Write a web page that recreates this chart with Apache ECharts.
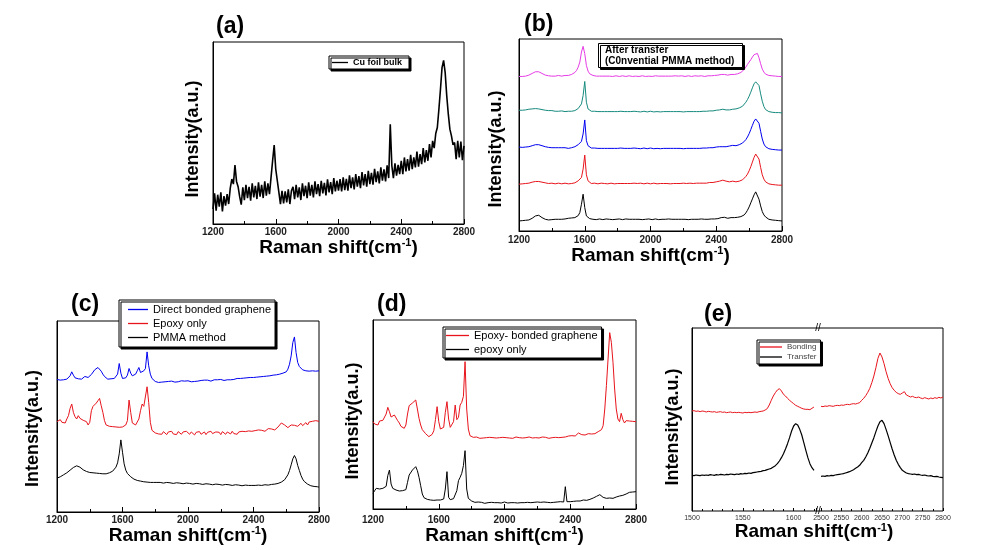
<!DOCTYPE html>
<html><head><meta charset="utf-8">
<script src="https://cdn.jsdelivr.net/npm/echarts@6/dist/echarts.min.js"></script>
<style>html,body{margin:0;padding:0;background:#fff}#c{width:992px;height:550px}</style>
</head><body><div id="c"></div>
<script>
// ---------- sampling grids (Raman shift, cm-1) ----------
const X0 = 1200, DX = 10;          // panels a-d: 1200..2800 step 10
const EL_X0 = 1500, EL_DX = 2;     // panel e, left segment 1500..1620
const ER_X0 = 2500, ER_DX = 5;     // panel e, right segment 2500..2800
const X_TICKS = [1200, 1600, 2000, 2400, 2800];

// ---------- (a) Cu foil bulk ----------
const A_CU = [45,92,40,88,52,95,38,84,55,90,60,
108,135,120,177,128,112,82,58,
110,72,118,78,112,70,122,80,115,75,125,82,118,78,128,85,122,90,
140,190,237,165,130,95,60,
100,62,98,65,104,60,100,
112,75,118,80,110,72,122,84,115,78,125,85,118,80,128,90,120,84,130,92,124,86,134,95,126,90,138,98,130,100,
135,98,140,102,136,100,146,108,140,104,150,112,144,108,156,116,150,112,160,120,154,118,166,126,158,122,170,130,164,128,176,138,
300,
175,138,182,145,178,150,190,150,200,158,195,160,208,165,200,170,218,172,210,180,228,185,222,190,240,200,
250,228,272,290,345,405,470,492,455,385,330,285,265,238,
245,195,250,200,248,192,235];

// ---------- (b) after transfer, five spots ----------
const B_BLACK = [30,32,31,33,32,34,33,36,38,42,
45,48,47,44,40,37,35,34,33,
33,34,33,35,34,35,36,35,37,36,37,38,37,39,38,40,42,46,
55,80,110,70,45,40,37,
36,35,36,34,35,36,35,34,35,36,34,35,36,34,35,35,34,36,35,34,
35,36,34,35,34,35,36,35,34,35,36,34,35,35,34,36,35,34,35,36,
35,34,36,35,34,35,35,36,34,35,34,35,36,35,34,35,36,35,35,34,
36,35,34,35,36,35,34,36,35,35,36,35,34,36,35,36,37,
37,38,40,42,41,39,38,39,40,41,
40,40,41,42,43,45,48,54,
62,72,84,96,108,117,114,95,75,58,48,42,
37,35,34,33,32,32,31,31,30,30];
const B_RED = [140,142,141,143,142,144,143,145,146,147,
148,149,148,147,146,145,144,143,142,
142,143,142,141,142,143,142,141,142,143,142,141,143,142,143,144,146,150,
152,160,185,227,168,150,145,
142,141,143,142,141,142,143,141,142,143,141,142,143,142,141,143,142,141,142,143,
142,141,142,143,142,141,143,142,142,141,143,142,141,142,143,142,141,142,143,142,
141,143,142,141,142,143,142,142,141,143,142,141,142,143,142,141,143,142,142,141,
143,142,142,141,143,142,143,142,143,144,143,144,145,144,145,146,147,
148,149,150,152,151,149,148,147,148,149,
146,147,148,149,151,153,157,163,
170,180,192,206,220,230,232,215,190,168,155,147,
143,141,140,139,138,138,137,137,137,137];
const B_BLUE = [251,252,250,252,251,253,252,254,255,257,
258,259,258,256,255,253,252,251,250,
250,249,250,249,248,249,248,249,248,249,248,247,248,249,250,252,254,258,
260,268,290,332,270,255,250,
248,247,248,246,247,248,247,246,247,248,247,246,247,248,247,246,247,247,248,246,
247,248,247,246,247,247,248,246,247,248,246,247,248,247,246,247,248,247,246,247,
247,248,246,247,247,248,247,246,247,248,247,246,247,248,247,247,246,248,247,246,
247,248,247,246,247,248,247,247,248,247,248,248,249,248,249,250,251,
251,252,253,252,251,252,253,254,255,256,
254,255,256,258,260,263,267,273,
281,291,303,316,328,335,337,322,298,275,260,252,
248,246,245,244,243,243,242,242,242,242];
const B_TEAL = [361,362,361,363,362,363,364,364,365,365,
366,366,365,364,363,362,361,360,360,
359,360,359,358,359,358,358,359,358,357,358,358,357,358,359,360,362,366,
370,380,405,447,385,365,360,
358,357,358,356,357,358,357,356,357,358,357,356,357,358,357,356,357,357,358,356,
357,358,357,356,357,357,358,356,357,358,356,357,358,357,356,357,358,357,356,357,
357,358,356,357,357,358,357,356,357,358,357,356,357,358,357,357,356,358,357,356,
357,358,357,356,357,358,357,357,358,357,358,358,359,358,359,360,361,
361,362,363,364,363,362,361,362,363,364,
364,365,366,368,370,373,378,385,
393,403,415,428,440,446,447,435,410,388,372,363,
359,357,356,355,355,354,354,354,353,353];
const B_MAGENTA = [462,463,462,464,463,465,466,468,471,474,
476,477,476,474,471,468,466,465,464,
464,463,464,463,464,465,464,463,464,465,464,465,466,468,470,474,480,490,
505,535,552,530,495,478,470,
467,465,464,463,464,463,462,463,464,463,462,463,464,462,463,464,463,462,463,464,
463,462,463,464,463,462,463,463,464,462,463,464,463,462,463,463,464,462,463,464,
462,463,464,463,462,463,464,463,462,463,463,464,462,463,463,464,463,462,463,464,
463,462,463,464,463,463,462,464,463,462,463,464,463,464,465,465,466,
466,467,468,469,468,467,466,467,468,469,
468,469,470,472,474,478,483,490,
498,505,512,520,527,532,531,518,500,484,475,469,
466,465,464,464,463,463,462,462,462,462];

// ---------- (c) ----------
const C_BLUE = [399,402,397,401,398,403,400,404,410,422,
412,404,405,401,403,400,404,408,409,405,
411,414,420,428,433,435,432,424,415,408,
404,400,398,401,399,402,405,415,447,418,
402,400,404,412,432,418,410,412,415,425,
435,420,417,425,432,482,440,415,402,396,
393,
392,390,393,391,394,392,390,393,392,394,
392,391,394,392,393,395,392,394,393,395,
394,392,395,393,396,394,393,396,395,397,
395,397,396,394,397,398,396,398,397,399,
398,396,399,398,400,398,401,399,400,402,
400,402,401,403,402,404,402,405,403,405,
404,406,405,407,406,408,407,409,408,410,
410,412,411,413,414,415,417,418,420,422,
430,445,470,510,527,480,450,438,432,428,
424,425,423,424,422,425,423,424,422,425];
const C_RED = [272,266,278,270,276,268,280,290,312,325,
300,287,280,290,282,286,276,280,272,262,
270,305,318,312,328,335,342,320,300,275,
262,256,258,254,257,253,256,252,255,253,
256,258,262,275,337,300,268,264,262,268,
280,305,325,318,312,377,330,270,246,240,
238,
243,235,241,234,242,237,233,241,236,243,
235,240,233,242,236,234,241,235,243,237,
234,241,236,232,240,235,242,234,239,241,
233,240,235,243,236,234,241,235,240,233,
242,236,234,241,237,235,243,236,240,234,
241,237,243,238,242,237,244,239,243,240,
245,240,247,242,246,249,243,248,251,245,
250,253,247,252,256,260,268,272,262,258,
254,259,262,256,261,265,258,263,267,260,
266,269,262,271,265,273,267,275,269,273];
const C_BLACK = [102,104,106,109,112,115,118,122,126,130,
134,137,139,138,135,131,127,124,122,120,
119,117,118,116,117,115,116,114,115,114,
115,116,118,120,123,128,135,148,175,217,
180,145,126,116,110,106,102,99,97,95,
94,93,92,91,91,90,90,89,90,89,
89,
89,88,89,88,87,88,89,87,88,87,
86,87,88,86,87,86,85,86,87,85,
86,85,84,85,86,84,85,84,83,84,
85,83,84,83,82,83,84,82,83,82,
81,82,83,81,82,81,80,81,82,80,
81,80,79,80,81,79,80,79,80,81,
80,79,81,82,80,81,82,83,81,82,
83,82,84,85,86,88,90,93,97,102,
112,125,142,160,170,160,140,125,110,99,
92,87,84,81,79,78,77,76,76,75];

// ---------- (d) ----------
const D_RED = [262,255,260,252,264,258,266,272,285,305,
292,276,270,282,276,265,258,248,246,242,
252,285,310,305,318,322,327,300,272,252,
238,232,226,220,217,219,224,235,268,307,
262,240,237,245,290,322,270,245,242,262,
312,268,275,312,320,338,442,300,240,220,
216,
215,213,216,214,212,215,213,216,214,213,
215,212,214,216,213,215,214,212,215,213,
214,216,213,215,212,214,216,213,214,215,
213,215,214,212,216,214,213,215,214,216,
213,214,216,213,215,214,212,215,214,216,
215,217,214,216,215,218,216,217,219,218,
220,222,219,224,228,226,223,225,222,224,
226,223,225,228,226,229,232,234,238,250,
300,370,450,529,500,440,360,300,270,262,
287,268,258,265,260,264,258,263,260,262];
const D_BLACK = [47,55,62,56,60,57,62,60,68,100,
117,75,62,58,57,60,54,52,55,53,
58,80,102,108,117,122,127,115,95,70,
45,34,31,29,28,27,28,26,28,27,
29,27,28,30,60,112,35,28,30,31,
35,55,85,95,107,130,175,60,32,26,
24,
22,20,19,21,18,20,19,17,20,19,
18,20,21,19,17,19,20,18,19,21,
19,18,20,19,17,19,21,18,20,19,
18,19,21,20,18,19,17,20,19,21,
19,20,18,21,19,20,18,19,21,20,
19,21,20,22,20,21,67,22,23,22,
24,23,25,24,26,24,25,27,25,26,
27,29,31,33,36,38,41,43,38,35,
33,32,31,33,34,32,35,36,37,39,
38,41,43,45,48,50,53,51,52,52];

// ---------- (e) broken axis ----------
const E_RED_L = [300,301,299,300,298,300,299,297,299,298,
297,298,296,297,298,296,297,295,296,297,
295,296,295,296,295,294,296,295,296,295,
296,297,296,298,299,300,303,307,318,332,
345,355,363,367,360,350,345,338,332,327,
322,317,314,311,308,306,305,305,304,308,
312];
const E_BLACK_L = [107,106,108,107,106,108,107,108,107,109,
108,107,109,108,110,109,108,110,109,111,
110,109,111,110,112,111,113,112,114,113,
115,116,117,118,119,121,122,124,126,128,
132,136,142,150,160,172,186,202,220,240,
255,262,258,245,228,205,182,160,142,130,
122];
const E_RED_R = [314,313,315,314,316,315,314,316,317,316,
318,317,319,320,319,321,322,321,323,325,
332,338,346,356,368,385,405,430,458,474,
462,442,418,398,382,370,362,356,352,350,
354,358,348,345,342,344,341,340,342,339,
337,340,338,336,339,337,340,338,341,339,
342];
const E_BLACK_R = [104,105,104,106,105,107,106,108,109,110,
111,112,114,116,118,121,124,128,132,137,
145,152,162,174,188,204,220,238,255,268,
272,262,245,226,206,186,168,152,140,130,
122,118,114,112,111,110,111,109,110,108,
107,108,106,105,106,104,103,104,102,101,
100];

// ---------- labels ----------
const PANEL_LABELS = ['(a)', '(b)', '(c)', '(d)', '(e)'];
const X_TITLE = 'Raman shift(cm{s|-1})';
const Y_TITLE = 'Intensity(a.u.)';
const E_TICKS_L = [1500, 1550, 1600];
const E_TICKS_R = [2500, 2550, 2600, 2650, 2700, 2750, 2800];

// ---------- build ----------
const FONT = '"Liberation Sans", Arial, Helvetica, sans-serif';
function pairs(x0, dx, ys) { return ys.map((y, i) => [x0 + i * dx, y]); }

const supRich = { s: { fontSize: 11, fontWeight: 'bold', fontFamily: FONT, color: '#000', verticalAlign: 'top' } };

function xStd(g, gap, margin) {
  return {
    gridIndex: g, type: 'value', min: X_TICKS[0], max: X_TICKS[X_TICKS.length - 1], interval: X_TICKS[1] - X_TICKS[0],
    axisLine: { show: true, lineStyle: { color: '#000', width: 1 } },
    axisTick: { show: true, inside: true, length: 5, lineStyle: { color: '#000' } },
    minorTick: { show: true, splitNumber: 2, length: 3, lineStyle: { color: '#000' } },
    splitLine: { show: false }, minorSplitLine: { show: false },
    axisLabel: { fontSize: 10, fontWeight: 'bold', color: '#222', margin: margin, fontFamily: FONT, formatter: v => String(v) },
    name: X_TITLE, nameLocation: 'middle', nameGap: gap,
    nameTextStyle: { fontSize: 19, fontWeight: 'bold', color: '#000', fontFamily: FONT, rich: supRich }
  };
}
function yStd(g, max, gap, shift) {
  return {
    gridIndex: g, type: 'value', min: 0, max: max,
    axisLine: { show: true, lineStyle: { color: '#000' } }, axisTick: { show: false },
    axisLabel: { show: false }, splitLine: { show: false },
    name: Y_TITLE, nameLocation: 'middle', nameGap: gap, nameRotate: 90,
    nameTextStyle: { fontSize: 18, fontWeight: 'bold', color: '#000', fontFamily: FONT, padding: [0, shift, 0, 0] }
  };
}
function ln(name, g, data, color, w) {
  return { type: 'line', name: name, xAxisIndex: g, yAxisIndex: g, data: data, symbol: 'none', showSymbol: false,
    lineStyle: { color: color, width: w || 1 }, itemStyle: { color: color }, animation: false, silent: true, z: 3 };
}
const boxStyle = { borderColor: '#000', borderWidth: 1, backgroundColor: '#fff', shadowColor: '#000', shadowOffsetX: 2, shadowOffsetY: 2, shadowBlur: 0 };
function leg(names, left, top, fs, iw, pad, extra) {
  return Object.assign({ data: names, left: left, top: top, orient: 'vertical', padding: pad, icon: 'rect', itemWidth: iw, itemHeight: 1.3, itemGap: 3,
    selectedMode: false, textStyle: { fontSize: fs, color: '#000', fontFamily: FONT } }, boxStyle, extra || {});
}

const RED = '#e8141c', BLUE = '#0000f0', TEAL = '#168a7e', MAG = '#e63ce6', BLK = '#000';

const eTickFmt = v => (E_TICKS_L.concat(E_TICKS_R).indexOf(v) >= 0 ? String(v) : '');

const option = {
  backgroundColor: '#fff',
  animation: false,
  grid: [
    { left: 213, top: 42, width: 251, height: 182, show: true, borderColor: '#000', borderWidth: 1 },
    { left: 519, top: 39, width: 263, height: 192, show: true, borderColor: '#000', borderWidth: 1 },
    { left: 57, top: 321, width: 262, height: 191, show: true, borderColor: '#000', borderWidth: 1 },
    { left: 373, top: 320, width: 263, height: 189, show: true, borderColor: '#000', borderWidth: 1 },
    { left: 692, top: 328, width: 124, height: 183 },
    { left: 821, top: 328, width: 122, height: 183 }
  ],
  xAxis: [
    xStd(0, 11, 3), xStd(1, 12, 4), xStd(2, 13, 3), xStd(3, 13, 6),
    { gridIndex: 4, type: 'value', min: 1500, max: 1622, interval: 50,
      axisLine: { show: false }, axisTick: { show: true, inside: true, length: 3, lineStyle: { color: '#000' } },
      minorTick: { show: true, splitNumber: 5, length: 2, lineStyle: { color: '#000' } },
      splitLine: { show: false }, axisLabel: { fontSize: 7, color: '#333', margin: 4, fontFamily: FONT, showMaxLabel: false, formatter: eTickFmt } },
    { gridIndex: 5, type: 'value', min: 2500, max: 2800, interval: 50,
      axisLine: { show: false }, axisTick: { show: true, inside: true, length: 3, lineStyle: { color: '#000' } },
      minorTick: { show: true, splitNumber: 2, length: 2, lineStyle: { color: '#000' } },
      splitLine: { show: false }, axisLabel: { fontSize: 7, color: '#333', margin: 4, fontFamily: FONT, formatter: eTickFmt } }
  ],
  yAxis: [
    yStd(0, 547, 11, 12), yStd(1, 574, 14, 28), yStd(2, 575, 15, 24), yStd(3, 567, 11, 13), yStd(4, 549, 10, 15),
    { gridIndex: 5, type: 'value', min: 0, max: 549, show: false }
  ],
  legend: [
    leg(['Cu foil bulk'], 329, 56, 9, 16, [2, 7, 2, 3], { textStyle: { fontSize: 9, fontWeight: 'bold', color: '#000', fontFamily: FONT } }),
    leg(['Direct bonded graphene', 'Epoxy only', 'PMMA method'], 119, 300, 11, 20, [4, 4, 4, 9]),
    leg(['Epoxy- bonded graphene', 'epoxy only'], 443, 327, 11, 23, [3, 4, 3, 3]),
    leg(['Bonding', 'Transfer'], 757, 340, 8, 22, [3, 4, 3, 3], { itemGap: 2, textStyle: { fontSize: 8, color: '#444', fontFamily: FONT } })
  ],
  title: [
    Object.assign({ text: 'After transfer\n(C0nvential PMMA method)', left: 598, top: 43, padding: [2, 8, 1, 7],
      textStyle: { fontSize: 10, fontWeight: 'bold', lineHeight: 11, color: '#000', fontFamily: FONT } }, boxStyle)
  ],
  graphic: [
    { type: 'text', x: 216, y: 27, style: { text: PANEL_LABELS[0], fontSize: 23, fontWeight: 'bold', fontFamily: FONT, fill: '#000', verticalAlign: 'middle' } },
    { type: 'text', x: 524, y: 25, style: { text: PANEL_LABELS[1], fontSize: 23, fontWeight: 'bold', fontFamily: FONT, fill: '#000', verticalAlign: 'middle' } },
    { type: 'text', x: 71, y: 305, style: { text: PANEL_LABELS[2], fontSize: 23, fontWeight: 'bold', fontFamily: FONT, fill: '#000', verticalAlign: 'middle' } },
    { type: 'text', x: 377, y: 305, style: { text: PANEL_LABELS[3], fontSize: 23, fontWeight: 'bold', fontFamily: FONT, fill: '#000', verticalAlign: 'middle' } },
    { type: 'text', x: 704, y: 315, style: { text: PANEL_LABELS[4], fontSize: 23, fontWeight: 'bold', fontFamily: FONT, fill: '#000', verticalAlign: 'middle' } },
    { type: 'rect', z: 1, shape: { x: 692, y: 328, width: 251, height: 183 }, style: { fill: 'none', stroke: '#000', lineWidth: 1 } },
    { type: 'text', z: 5, x: 818, y: 328, style: { text: '//', fontSize: 10, fontFamily: FONT, fill: '#000', align: 'center', verticalAlign: 'middle' } },
    { type: 'text', z: 5, x: 818, y: 511, style: { text: '//', fontSize: 10, fontFamily: FONT, fill: '#000', align: 'center', verticalAlign: 'middle' } },
    { type: 'text', x: 814, y: 532, style: { text: X_TITLE, fontSize: 19, fontWeight: 'bold', fontFamily: FONT, fill: '#000', align: 'center', verticalAlign: 'middle', rich: supRich } }
  ],
  series: [
    ln('Cu foil bulk', 0, pairs(X0, DX, A_CU), BLK, 1.6),
    ln('spot 1', 1, pairs(X0, DX, B_BLACK), BLK),
    ln('spot 2', 1, pairs(X0, DX, B_RED), RED),
    ln('spot 3', 1, pairs(X0, DX, B_BLUE), BLUE),
    ln('spot 4', 1, pairs(X0, DX, B_TEAL), TEAL),
    ln('spot 5', 1, pairs(X0, DX, B_MAGENTA), MAG),
    ln('Direct bonded graphene', 2, pairs(X0, DX, C_BLUE), BLUE),
    ln('Epoxy only', 2, pairs(X0, DX, C_RED), RED),
    ln('PMMA method', 2, pairs(X0, DX, C_BLACK), BLK),
    ln('Epoxy- bonded graphene', 3, pairs(X0, DX, D_RED), RED),
    ln('epoxy only', 3, pairs(X0, DX, D_BLACK), BLK),
    ln('Bonding', 4, pairs(EL_X0, EL_DX, E_RED_L), RED),
    ln('Transfer', 4, pairs(EL_X0, EL_DX, E_BLACK_L), BLK, 1.2),
    ln('Bonding', 5, pairs(ER_X0, ER_DX, E_RED_R), RED),
    ln('Transfer', 5, pairs(ER_X0, ER_DX, E_BLACK_R), BLK, 1.2)
  ]
};

const chart = echarts.init(document.getElementById('c'), null, { renderer: 'canvas' });
chart.setOption(option);
</script>
</body></html>
